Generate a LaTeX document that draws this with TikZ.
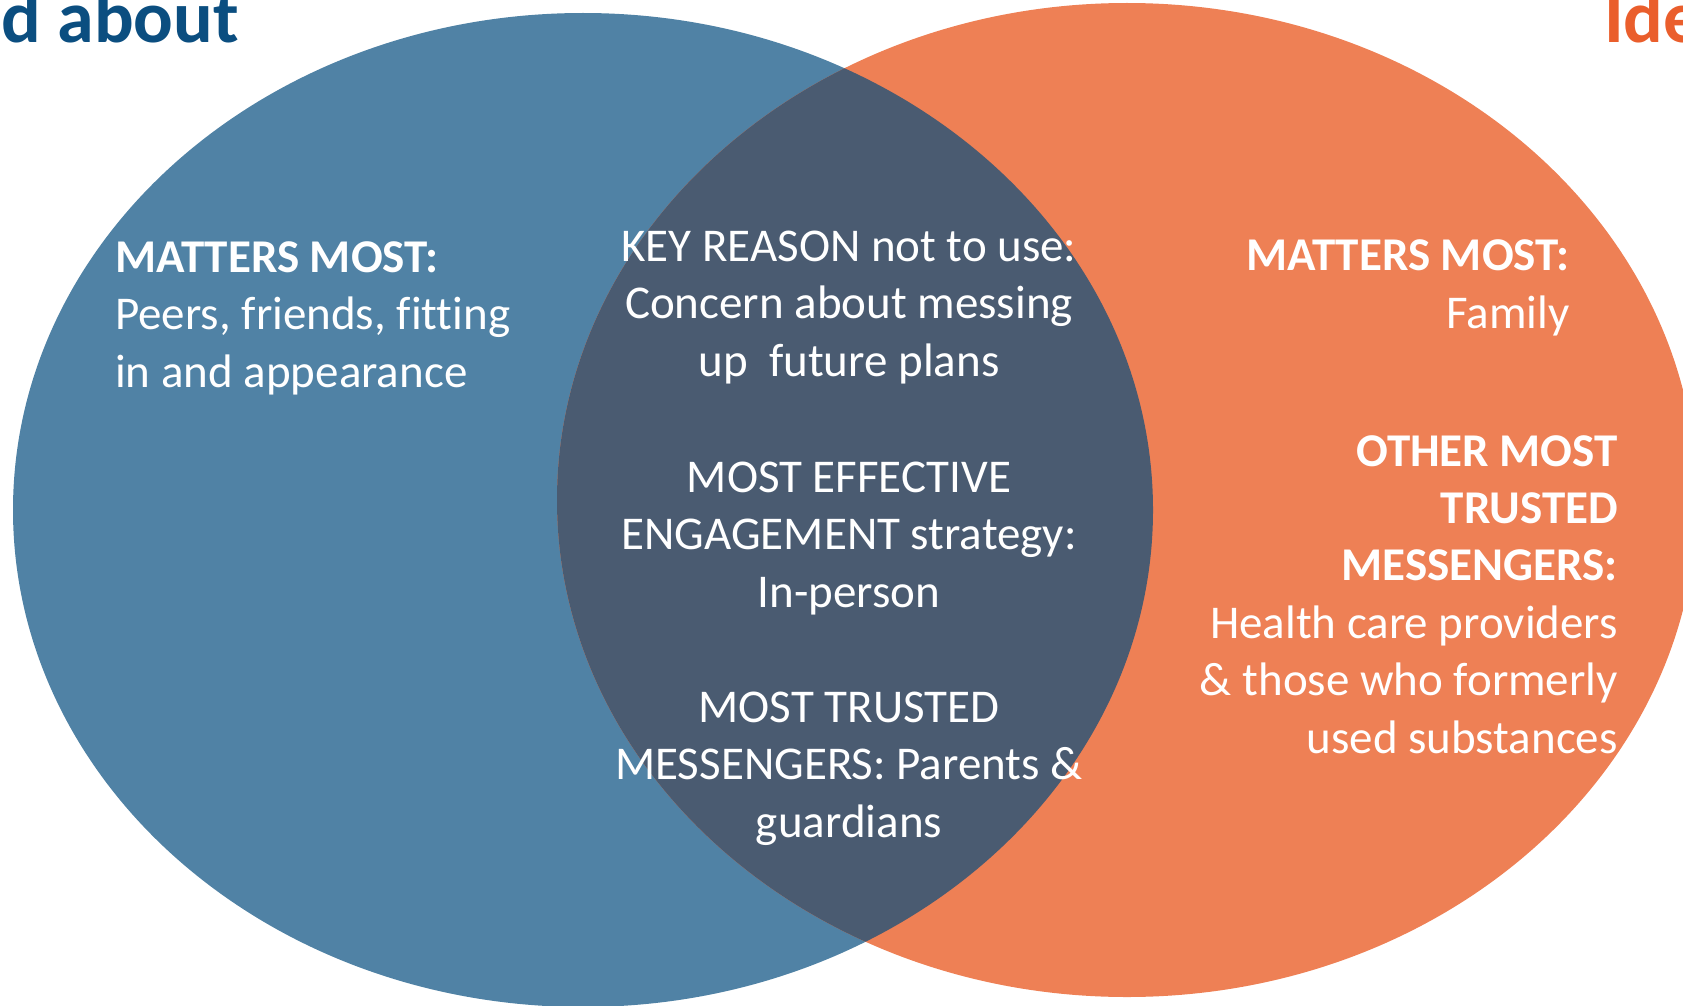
\documentclass[tikz,border=0pt]{standalone}
\usepackage{fontspec}
\setmainfont[Ligatures=NoCommon]{Carlito}
\definecolor{youthblue}{RGB}{80,130,165}
\definecolor{adultorange}{RGB}{238,128,85}
\definecolor{sharedslate}{RGB}{74,91,113}
\definecolor{titleblue}{RGB}{11,78,128}
\definecolor{titleorange}{RGB}{234,94,44}

\begin{document}
\begin{tikzpicture}[x=1pt,y=-1pt,
	txt/.style={text=white,inner sep=0pt,font=\fontsize{47}{57.4}\selectfont},
	title/.style={inner sep=0pt,anchor=base west,font=\bfseries\fontsize{74}{74}\selectfont}]
	\useasboundingbox (0,0) rectangle (1683,1006);
	\clip (0,0) rectangle (1683,1006);
	\fill[youthblue] (583,510) ellipse [x radius=570, y radius=497];
	\fill[adultorange] (1127,500) ellipse [x radius=570, y radius=497];
	\begin{scope}
		\clip (583,510) ellipse [x radius=570, y radius=497];
		\fill[sharedslate] (1127,500) ellipse [x radius=570, y radius=497];
	\end{scope}
	\node[title,text=titleblue] (lefttitle) at (1,43) {d about};
	\node[title,text=titleorange] (righttitle) at (1604,43) {Ide};
	% multi-line nodes sit on the baseline of their last line
	\node[txt,anchor=base west,align=left] (peers) at (115,387)
		{\textbf{MATTERS MOST:}\\Peers, friends, fitting\\in and appearance};
	\node[txt,anchor=base,align=center] (reason) at (849,376)
		{KEY REASON not to use:\\Concern about messing\\up~ future plans};
	\node[txt,anchor=base,align=center] (engage) at (849,607)
		{MOST EFFECTIVE\\ENGAGEMENT strategy:\\In-person};
	\node[txt,anchor=base,align=center] (parents) at (849,837)
		{MOST TRUSTED\\MESSENGERS: Parents \&\\guardians};
	\node[txt,anchor=base east,align=right] (family) at (1570,328)
		{\textbf{MATTERS MOST:}\\Family};
	\node[txt,anchor=base east,align=right] (others) at (1618,753)
		{\textbf{OTHER MOST}\\\textbf{TRUSTED}\\\textbf{MESSENGERS:}\\Health care providers\\\& those who formerly\\used substances};
\end{tikzpicture}
\end{document}
